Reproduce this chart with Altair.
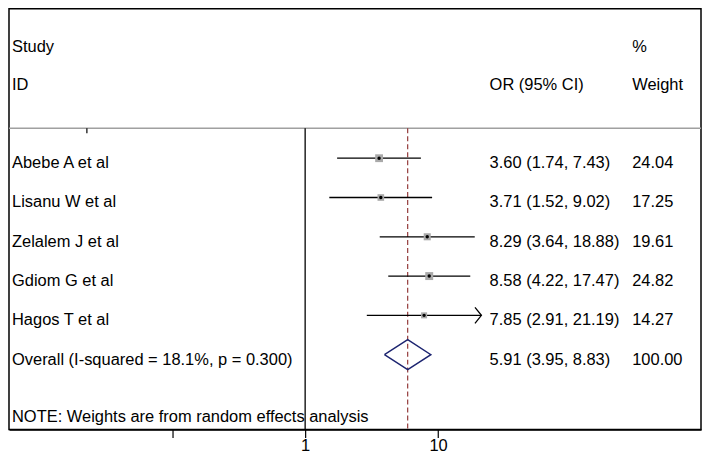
import altair as alt
import pandas as pd

# ---------------- data ----------------
studies = ["Abebe A et al", "Lisanu W et al", "Zelalem J et al", "Gdiom G et al", "Hagos T et al"]
or_est = [3.60, 3.71, 8.29, 8.58, 7.85]
ci_low = [1.74, 1.52, 3.64, 4.22, 2.91]
ci_high = [7.43, 9.02, 18.88, 17.47, 21.19]
weights = [24.04, 17.25, 19.61, 24.82, 14.27]
arrow_right = [False, False, False, False, True]

overall_label = "Overall (I-squared = 18.1%, p = 0.300)"
overall_est = 5.91
overall_low = 3.95
overall_high = 8.83
overall_weight = 100.00

note_text = "NOTE: Weights are from random effects analysis"
header_left = ["Study", "ID"]
header_or = "OR (95% CI)"
header_weight = ["%", "Weight"]
axis_ticks = [0.1, 1, 10]
axis_labels = {1: "1", 10: "10"}
null_value = 1
stray_tick = [0.0228]

# ---------------- layout (pixels) ----------------
W, H = 694, 422
ROW_PX = 39.4          # vertical distance between rows
FIRST_ROW_Y = 150      # chart y of the first study row
DECADE_PX = 133.3      # pixels per decade of OR
ONE_X = 297            # chart x of OR = 1
FONT_SIZE = 16.5

def row_of(py):
    return (py - FIRST_ROW_Y) / ROW_PX

def or_of(px):
    return 10 ** ((px - ONE_X) / DECADE_PX)

x_min, x_max = or_of(0), or_of(W)
y_min, y_max = row_of(0), row_of(H)

TEXT_OFF = 5 / ROW_PX
sep_row = row_of(120)
label_x = or_of(3)
or_col_x = or_of(482)
wt_col_x = or_of(625)
study_row = row_of(38)
id_row = row_of(77)
note_row = row_of(410)

xscale = alt.Scale(type="log", domain=[x_min, x_max], nice=False, zero=False)
yscale = alt.Scale(domain=[y_min, y_max], reverse=True, nice=False, zero=False)
label_expr = " : ".join(f"datum.value == {k} ? '{v}'" for k, v in axis_labels.items()) + " : ''"
xaxis = alt.Axis(values=axis_ticks, labelExpr=label_expr, grid=False, title=None,
                 tickSize=8, tickColor="black", tickWidth=1.2, domainColor="black",
                 domainWidth=1.5, labelFontSize=FONT_SIZE, labelFont="Liberation Sans",
                 labelColor="black", labelPadding=0, orient="bottom")

def X(field):
    return alt.X(field, type="quantitative", scale=xscale, axis=xaxis)

def Y(field):
    return alt.Y(field, type="quantitative", scale=yscale, axis=None)

n = len(studies)
rows = pd.DataFrame({
    "study": studies, "est": or_est, "lo": ci_low, "hi": ci_high, "w": weights,
    "row": list(range(n)), "arrow": arrow_right,
})
rows["or_txt"] = [f"{e:.2f} ({l:.2f}, {h:.2f})" for e, l, h in zip(or_est, ci_low, ci_high)]
rows["w_txt"] = [f"{w:.2f}" for w in weights]

ov_row = n
texts = []
for t, r in zip(header_left, [study_row, id_row]):
    texts.append({"t": t, "x": label_x, "r": r})
texts.append({"t": header_or, "x": or_col_x, "r": id_row})
for t, r in zip(header_weight, [study_row, id_row]):
    texts.append({"t": t, "x": wt_col_x, "r": r})
for i in range(n):
    texts.append({"t": studies[i], "x": label_x, "r": i + TEXT_OFF})
    texts.append({"t": rows["or_txt"][i], "x": or_col_x, "r": i + TEXT_OFF})
    texts.append({"t": rows["w_txt"][i], "x": wt_col_x, "r": i + TEXT_OFF})
texts.append({"t": overall_label, "x": label_x, "r": ov_row + TEXT_OFF})
texts.append({"t": f"{overall_est:.2f} ({overall_low:.2f}, {overall_high:.2f})", "x": or_col_x, "r": ov_row + TEXT_OFF})
texts.append({"t": f"{overall_weight:.2f}", "x": wt_col_x, "r": ov_row + TEXT_OFF})
texts.append({"t": note_text, "x": label_x, "r": note_row})
text_df = pd.DataFrame(texts)

DIAM_H = 15 / ROW_PX
diamond = pd.DataFrame({
    "x": [overall_low, overall_est, overall_high, overall_est, overall_low],
    "r": [ov_row, ov_row - DIAM_H, ov_row, ov_row + DIAM_H, ov_row],
    "i": [0, 1, 2, 3, 4],
})

vlines = pd.DataFrame({"x": [null_value, overall_est], "r1": [sep_row, sep_row], "r2": [y_max, y_max],
                       "kind": ["null", "overall"]})
sep = pd.DataFrame({"x": [x_min], "x2": [x_max], "r": [sep_row]})
stray = pd.DataFrame({"x": stray_tick, "r1": [sep_row], "r2": [sep_row + 5 / ROW_PX]})

base_rows = alt.Chart(rows)

ci = base_rows.mark_rule(color="black", strokeWidth=1.3).encode(x=X("lo"), x2="hi", y=Y("row"))
boxes = base_rows.mark_point(shape="square", filled=True, color="#a9a9a9", opacity=1).encode(
    x=X("est"), y=Y("row"),
    size=alt.Size("w:Q", scale=alt.Scale(type="linear", domain=[0, 25], range=[0, 64], zero=True), legend=None))
dots = base_rows.mark_point(shape="circle", filled=True, color="black", size=12, opacity=1).encode(
    x=X("est"), y=Y("row"))
arrows = alt.Chart(rows[rows["arrow"]]).mark_point(
    shape="M-0.8,-1L0,0L-0.8,1", filled=False, color="black", size=260, strokeWidth=1.3, opacity=1
).encode(x=X("hi"), y=Y("row"))

null_line = alt.Chart(vlines[vlines["kind"] == "null"]).mark_rule(color="black", strokeWidth=1.3).encode(
    x=X("x"), y=Y("r1"), y2="r2")
ov_line = alt.Chart(vlines[vlines["kind"] == "overall"]).mark_rule(
    color="#8b2a2a", strokeWidth=1.1, strokeDash=[5, 3]).encode(x=X("x"), y=Y("r1"), y2="r2")
sep_line = alt.Chart(sep).mark_rule(color="#a0a0a0", strokeWidth=1.5).encode(x=X("x"), x2="x2", y=Y("r"))
stray_line = alt.Chart(stray).mark_rule(color="black", strokeWidth=1.2).encode(x=X("x"), y=Y("r1"), y2="r2")

diam = alt.Chart(diamond).mark_line(color="#1c2470", strokeWidth=1.4).encode(
    x=X("x"), y=Y("r"), order="i:Q")

labels = alt.Chart(text_df).mark_text(
    align="left", baseline="middle", font="Liberation Sans", fontSize=FONT_SIZE, color="black"
).encode(x=X("x"), y=Y("r"), text="t:N")

chart = alt.layer(
    sep_line, stray_line, null_line, ov_line, ci, boxes, dots, arrows, diam, labels
).properties(width=W, height=H, padding=0, background="white").configure_view(
    stroke="black", strokeWidth=1.5
)

chart.save("out.html", embed_options={"renderer": "svg", "actions": False})
